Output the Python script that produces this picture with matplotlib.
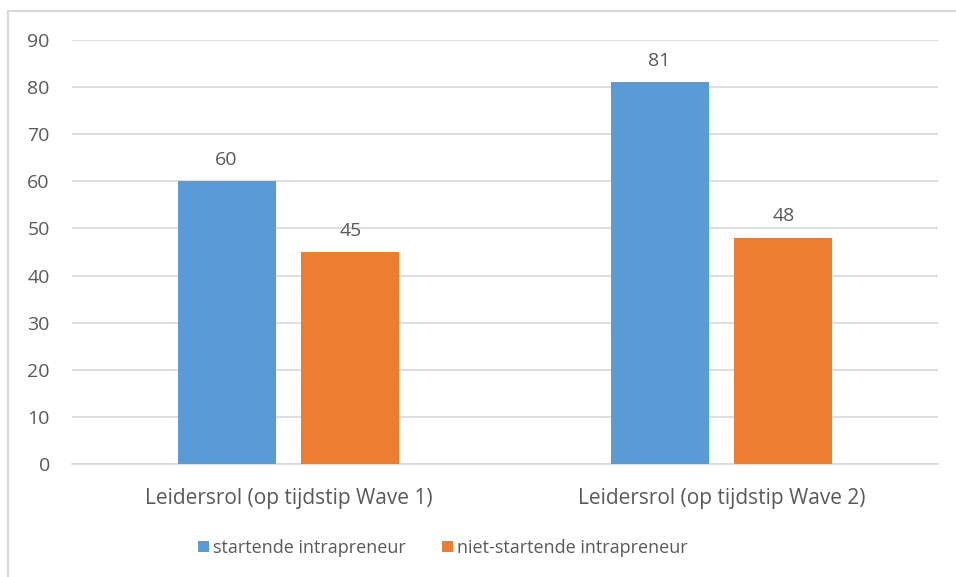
import numpy as np
import matplotlib.pyplot as plt
from matplotlib.patches import Rectangle

# data from the chart
categories = ["Leidersrol (op tijdstip Wave 1)", "Leidersrol (op tijdstip Wave 2)"]
series_names = ["startende intrapreneur", "niet-startende intrapreneur"]
startend = [60, 81]
niet_startend = [45, 48]
yticks = [0, 10, 20, 30, 40, 50, 60, 70, 80, 90]

blue = "#5b9bd5"
orange = "#ed7d31"
txt = "#595959"
grid_c = "#d9d9d9"

plt.rcParams['font.family'] = ['Open Sans', 'DejaVu Sans']

fig = plt.figure(figsize=(9.56, 5.77), dpi=100)
# light border round the chart area
fig.patches.append(Rectangle((8 / 956, -0.1), 1.2, 1 - 11 / 577 + 0.1, transform=fig.transFigure,
                             fill=False, edgecolor=grid_c, linewidth=1.5))

ax = fig.add_axes([72 / 956, 1 - 464 / 577, (938 - 72) / 956, (464 - 40) / 577])

x = np.arange(len(categories))
w = 0.226
off = 0.143
b1 = ax.bar(x - off, startend, w, color=blue, label=series_names[0], zorder=3)
b2 = ax.bar(x + off, niet_startend, w, color=orange, label=series_names[1], zorder=3)

for bars, vals in [(b1, startend), (b2, niet_startend)]:
    for rect, v in zip(bars, vals):
        ax.annotate(str(v), (rect.get_x() + rect.get_width() / 2, v), xytext=(0, 9),
                    textcoords="offset points", ha="center", va="bottom", fontsize=14, color=txt)

ax.set_xlim(-0.5, 1.5)
ax.set_ylim(0, 90)
ax.set_yticks(yticks)
ax.set_xticks(x)
ax.set_xticklabels(categories)
ax.tick_params(axis="both", length=0, labelsize=14, colors=txt)
ax.tick_params(axis="x", labelsize=15, pad=17)
ax.tick_params(axis="y", pad=16)
ax.yaxis.grid(True, color=grid_c, linewidth=1.2, zorder=0)
for s in ["top", "right", "left"]:
    ax.spines[s].set_visible(False)
ax.spines["bottom"].set_color(grid_c)
ax.spines["bottom"].set_linewidth(1.2)

fig.legend(loc="center", bbox_to_anchor=(443 / 956, 1 - 548 / 577), ncol=2, frameon=False,
           fontsize=13, labelcolor=txt, handlelength=0.6, handleheight=0.6, handletextpad=0.25,
           columnspacing=2.0)

fig.savefig("out.png", dpi=100)
